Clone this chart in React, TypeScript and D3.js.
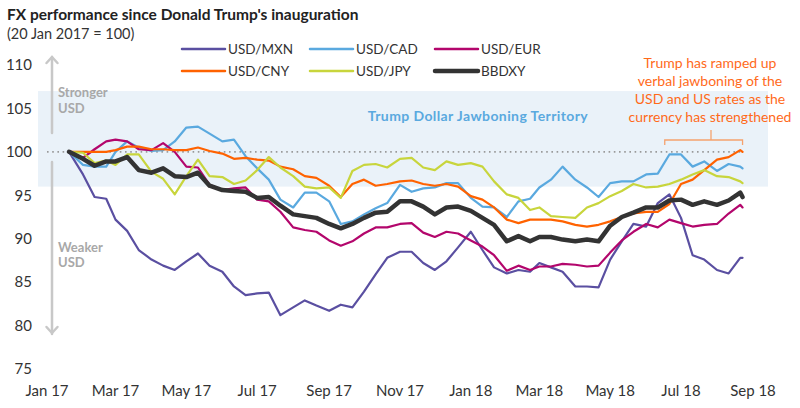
import React from "react";
import * as d3 from "d3";

const dates: string[] = [
  "2017-01-20","2017-02-01","2017-02-11","2017-02-21","2017-03-01","2017-03-11","2017-03-21",
  "2017-04-01","2017-04-11","2017-04-21","2017-05-01","2017-05-11","2017-05-21","2017-06-01",
  "2017-06-11","2017-06-21","2017-07-01","2017-07-11","2017-07-21","2017-08-01","2017-08-11",
  "2017-08-21","2017-09-01","2017-09-11","2017-09-21","2017-10-01","2017-10-11","2017-10-21",
  "2017-11-01","2017-11-11","2017-11-21","2017-12-01","2017-12-11","2017-12-21","2018-01-01",
  "2018-01-11","2018-01-21","2018-02-01","2018-02-11","2018-02-21","2018-03-01","2018-03-11",
  "2018-03-21","2018-04-01","2018-04-11","2018-04-21","2018-05-01","2018-05-11","2018-05-21",
  "2018-06-01","2018-06-11","2018-06-21","2018-07-01","2018-07-11","2018-07-21","2018-08-01",
  "2018-08-11","2018-08-21","2018-08-23"
];

const usdMxn: number[] = [
  100,97.4,94.8,94.6,92.2,90.9,88.7,87.6,86.9,86.4,87.4,88.3,86.9,86.2,84.5,83.5,83.7,83.8,81.2,
  82.1,82.9,82.3,81.7,82.4,82.1,83.9,85.9,87.8,88.5,88.5,87.2,86.4,87.4,89.0,90.8,88.7,86.7,86.0,
  86.4,86.2,87.2,86.7,86.2,84.5,84.5,84.4,87.6,89.7,91.7,91.4,94.1,95.1,92.4,88.1,87.6,86.4,86.0,
  87.8,87.8
];

const usdCad: number[] = [
  100,98.5,98.3,98.3,100,101.2,100.5,100.1,100.2,101.2,102.8,102.9,102.1,101.2,101.4,99.5,98.1,
  96.8,94.5,93.6,95.3,95.3,94.3,91.7,92.0,92.8,93.5,94.1,96.2,95.4,95.8,95.9,96.4,96.4,94.7,93.7,
  93.6,92.5,94.3,94.6,95.9,96.8,98.3,96.8,95.9,94.8,96.4,96.6,96.6,97.4,97.5,99.7,99.7,98.3,98.9,
  97.8,98.6,98.3,98.1
];

const usdEur: number[] = [
  100,99.3,100.3,101.2,101.4,101.2,100.3,100.2,101.0,100,98.3,98.2,96.2,95.6,95.8,95.9,94.5,94.3,
  93.1,91.3,91.0,90.8,89.8,89.2,89.7,90.6,91.3,91.3,91.7,91.8,90.7,90.2,90.8,90.6,89.8,89.1,88.1,
  86.3,86.9,86.4,86.8,86.8,87.1,87.0,86.8,86.9,88.4,89.8,90.8,91.7,91.3,92.2,91.8,91.4,91.6,91.7,
  92.9,93.9,93.6
];

const usdCny: number[] = [
  100,100,100,100,100.2,100.6,100.6,100.3,100.3,100.2,100.2,100.5,100.1,99.8,99.2,99.3,99.1,99.0,
  98.3,98.0,97.2,97.0,96.1,94.8,96.3,96.8,96.1,96.3,96.6,96.7,96.3,96.1,96.3,96.0,94.9,94.5,93.6,
  92.2,91.8,92.2,92.2,92.2,92.0,91.6,91.4,91.6,92.0,92.5,92.9,93.1,93.1,94.0,96.3,96.8,97.9,99.1,
  99.4,100.2,100.0
];

const usdJpy: number[] = [
  100,99.9,98.7,99.0,98.5,99.7,99.7,97.7,96.9,95.1,97.2,99.1,97.2,97.1,96.3,96.7,97.9,99.4,98.2,
  97.2,96.0,95.8,95.9,94.7,97.8,98.5,98.6,98.2,99.2,99.3,98.2,97.9,98.9,98.5,98.7,98.3,96.6,95.1,
  94.7,93.3,93.6,92.6,92.5,92.4,93.6,94.1,94.9,95.5,96.3,95.9,96.0,96.3,96.8,97.4,97.9,97.2,97.1,
  96.6,96.4
];

const bbdxy: number[] = [
  100,99.2,98.4,98.9,98.9,99.4,97.9,97.6,98.1,97.2,97.1,97.6,96.1,95.6,95.5,95.4,94.7,94.8,93.8,
  92.8,92.6,92.4,91.7,91.2,91.7,92.4,93.0,93.1,94.3,94.3,93.7,92.8,93.6,93.7,93.2,92.4,91.6,89.7,
  90.3,89.7,90.2,90.2,89.9,89.7,89.9,89.7,91.5,92.5,93.0,93.6,93.6,94.4,94.5,93.9,94.3,93.9,94.4,
  95.3,94.8
];

const yTicks: number[] = [75, 80, 85, 90, 95, 100, 105, 110];
const xTickLabels: string[] = [
  "Jan 17","Mar 17","May 17","Jul 17","Sep 17","Nov 17","Jan 18","Mar 18","May 18","Jul 18","Sep 18"
];
const xTickDates: string[] = [
  "2017-01-01","2017-03-01","2017-05-01","2017-07-01","2017-09-01","2017-11-01",
  "2018-01-01","2018-03-01","2018-05-01","2018-07-01","2018-09-01"
];
const bandRange: number[] = [96, 107];
const annotationLines: string[] = [
  "Trump has ramped up",
  "verbal jawboning of the",
  "USD and US rates as the",
  "currency has strengthened",
];

const seriesNames = ["USD/MXN", "USD/CAD", "USD/EUR", "USD/CNY", "USD/JPY", "BBDXY"];
const seriesData = [usdMxn, usdCad, usdEur, usdCny, usdJpy, bbdxy];
const seriesColors = ["#5a4fa1", "#5aa9df", "#b3066c", "#ff6200", "#c8d53c", "#333333"];
const seriesWidths = [2.2, 2.2, 2.2, 2.2, 2.2, 4.5];

const FONT = "Lato, 'Open Sans', sans-serif";

export default function App() {
  const parse = d3.timeParse("%Y-%m-%d");
  const x = d3
    .scaleTime()
    .domain([parse("2017-01-01") as Date, parse("2018-09-01") as Date])
    .range([47, 753]);
  const y = d3.scaleLinear().domain([75, 110]).range([369, 65]);
  const parsedDates = dates.map((d) => parse(d) as Date);
  const line = d3
    .line<number>()
    .x((_, i) => x(parsedDates[i]))
    .y((v) => y(v));

  const xStart = x(parsedDates[0]);
  const xEnd = x(parsedDates[parsedDates.length - 1]);

  const legendPos = [
    { lx: 182, ly: 49 },
    { lx: 310, ly: 49 },
    { lx: 435, ly: 49 },
    { lx: 182, ly: 71 },
    { lx: 310, ly: 71 },
    { lx: 435, ly: 71 },
  ];

  const bracketL = x(parse("2018-06-17") as Date);
  const bracketR = xEnd;
  const bracketMid = 711;

  return (
    <div style={{ position: "fixed", left: 0, top: 0 }}>
      <svg width={800} height={408} style={{ display: "block", fontFamily: FONT }}>
        <rect x={0} y={0} width={800} height={408} fill="#ffffff" />
        {/* title */}
        <text x={7} y={20} fontSize={15.5} fontWeight="bold" fill="#222">
          FX performance since Donald Trump's inauguration
        </text>
        <text x={7} y={39} fontSize={14.5} fill="#333">
          (20 Jan 2017 = 100)
        </text>

        {/* band */}
        <rect
          x={38}
          y={y(bandRange[1])}
          width={768 - 38}
          height={y(bandRange[0]) - y(bandRange[1])}
          fill="#eaf2f9"
        />

        {/* 100 dotted line */}
        <line
          x1={47}
          x2={xEnd}
          y1={y(100)}
          y2={y(100)}
          stroke="#9a9a9a"
          strokeWidth={1.6}
          strokeDasharray="1.6,3.6"
        />

        {/* arrow */}
        <g stroke="#c8c8c8" strokeWidth={2.5} fill="none" strokeLinecap="round">
          <line x1={52} x2={52} y1={57} y2={133} />
          <line x1={52} x2={52} y1={162} y2={334} />
          <polyline points="46.5,63 52,57 57.5,63" />
          <polyline points="46.5,327 52,333 57.5,327" />
        </g>
        <g fill="#a8a8a8" fontSize={13} fontWeight="bold">
          <text x={58} y={97}>Stronger</text>
          <text x={58} y={113}>USD</text>
          <text x={58} y={252}>Weaker</text>
          <text x={58} y={267}>USD</text>
        </g>

        <text
          x={478}
          y={121}
          textAnchor="middle"
          fontSize={14}
          fontWeight="bold"
          letterSpacing={0.4}
          fill="#5aa9df"
        >
          Trump Dollar Jawboning Territory
        </text>

        {/* y ticks */}
        {yTicks.map((t) => (
          <text key={t} x={32} y={y(t)} dy="0.35em" textAnchor="end" fontSize={15} fill="#333">
            {t}
          </text>
        ))}
        {/* x ticks */}
        {xTickLabels.map((lab, i) => (
          <text
            key={lab}
            x={x(parse(xTickDates[i]) as Date)}
            y={396}
            textAnchor="middle"
            fontSize={15}
            fill="#333"
          >
            {lab}
          </text>
        ))}

        {/* series */}
        {seriesData.map((s, i) => (
          <path
            key={seriesNames[i]}
            d={line(s) || ""}
            fill="none"
            stroke={seriesColors[i]}
            strokeWidth={seriesWidths[i]}
            strokeLinejoin="round"
            strokeLinecap="round"
          />
        ))}

        {/* legend */}
        {seriesNames.map((n, i) => (
          <g key={n}>
            <line
              x1={legendPos[i].lx}
              x2={legendPos[i].lx + 43}
              y1={legendPos[i].ly}
              y2={legendPos[i].ly}
              stroke={seriesColors[i]}
              strokeWidth={i === 5 ? 4.5 : 2.5}
              strokeLinecap="round"
            />
            <text x={legendPos[i].lx + 46} y={legendPos[i].ly + 5} fontSize={13.5} fill="#333">
              {n}
            </text>
          </g>
        ))}

        {/* annotation */}
        {annotationLines.map((l, i) => (
          <text
            key={i}
            x={710}
            y={68 + i * 18}
            textAnchor="middle"
            fontSize={14}
            fill="#ff6a1a"
          >
            {l}
          </text>
        ))}
        <g stroke="#f5a26e" strokeWidth={1.3} fill="none">
          <line x1={bracketMid} x2={bracketMid} y1={130} y2={140} />
          <polyline
            points={`${bracketL},145 ${bracketL},140 ${bracketR},140 ${bracketR},145`}
          />
        </g>
        {xStart < 0 ? null : null}
      </svg>
    </div>
  );
}
